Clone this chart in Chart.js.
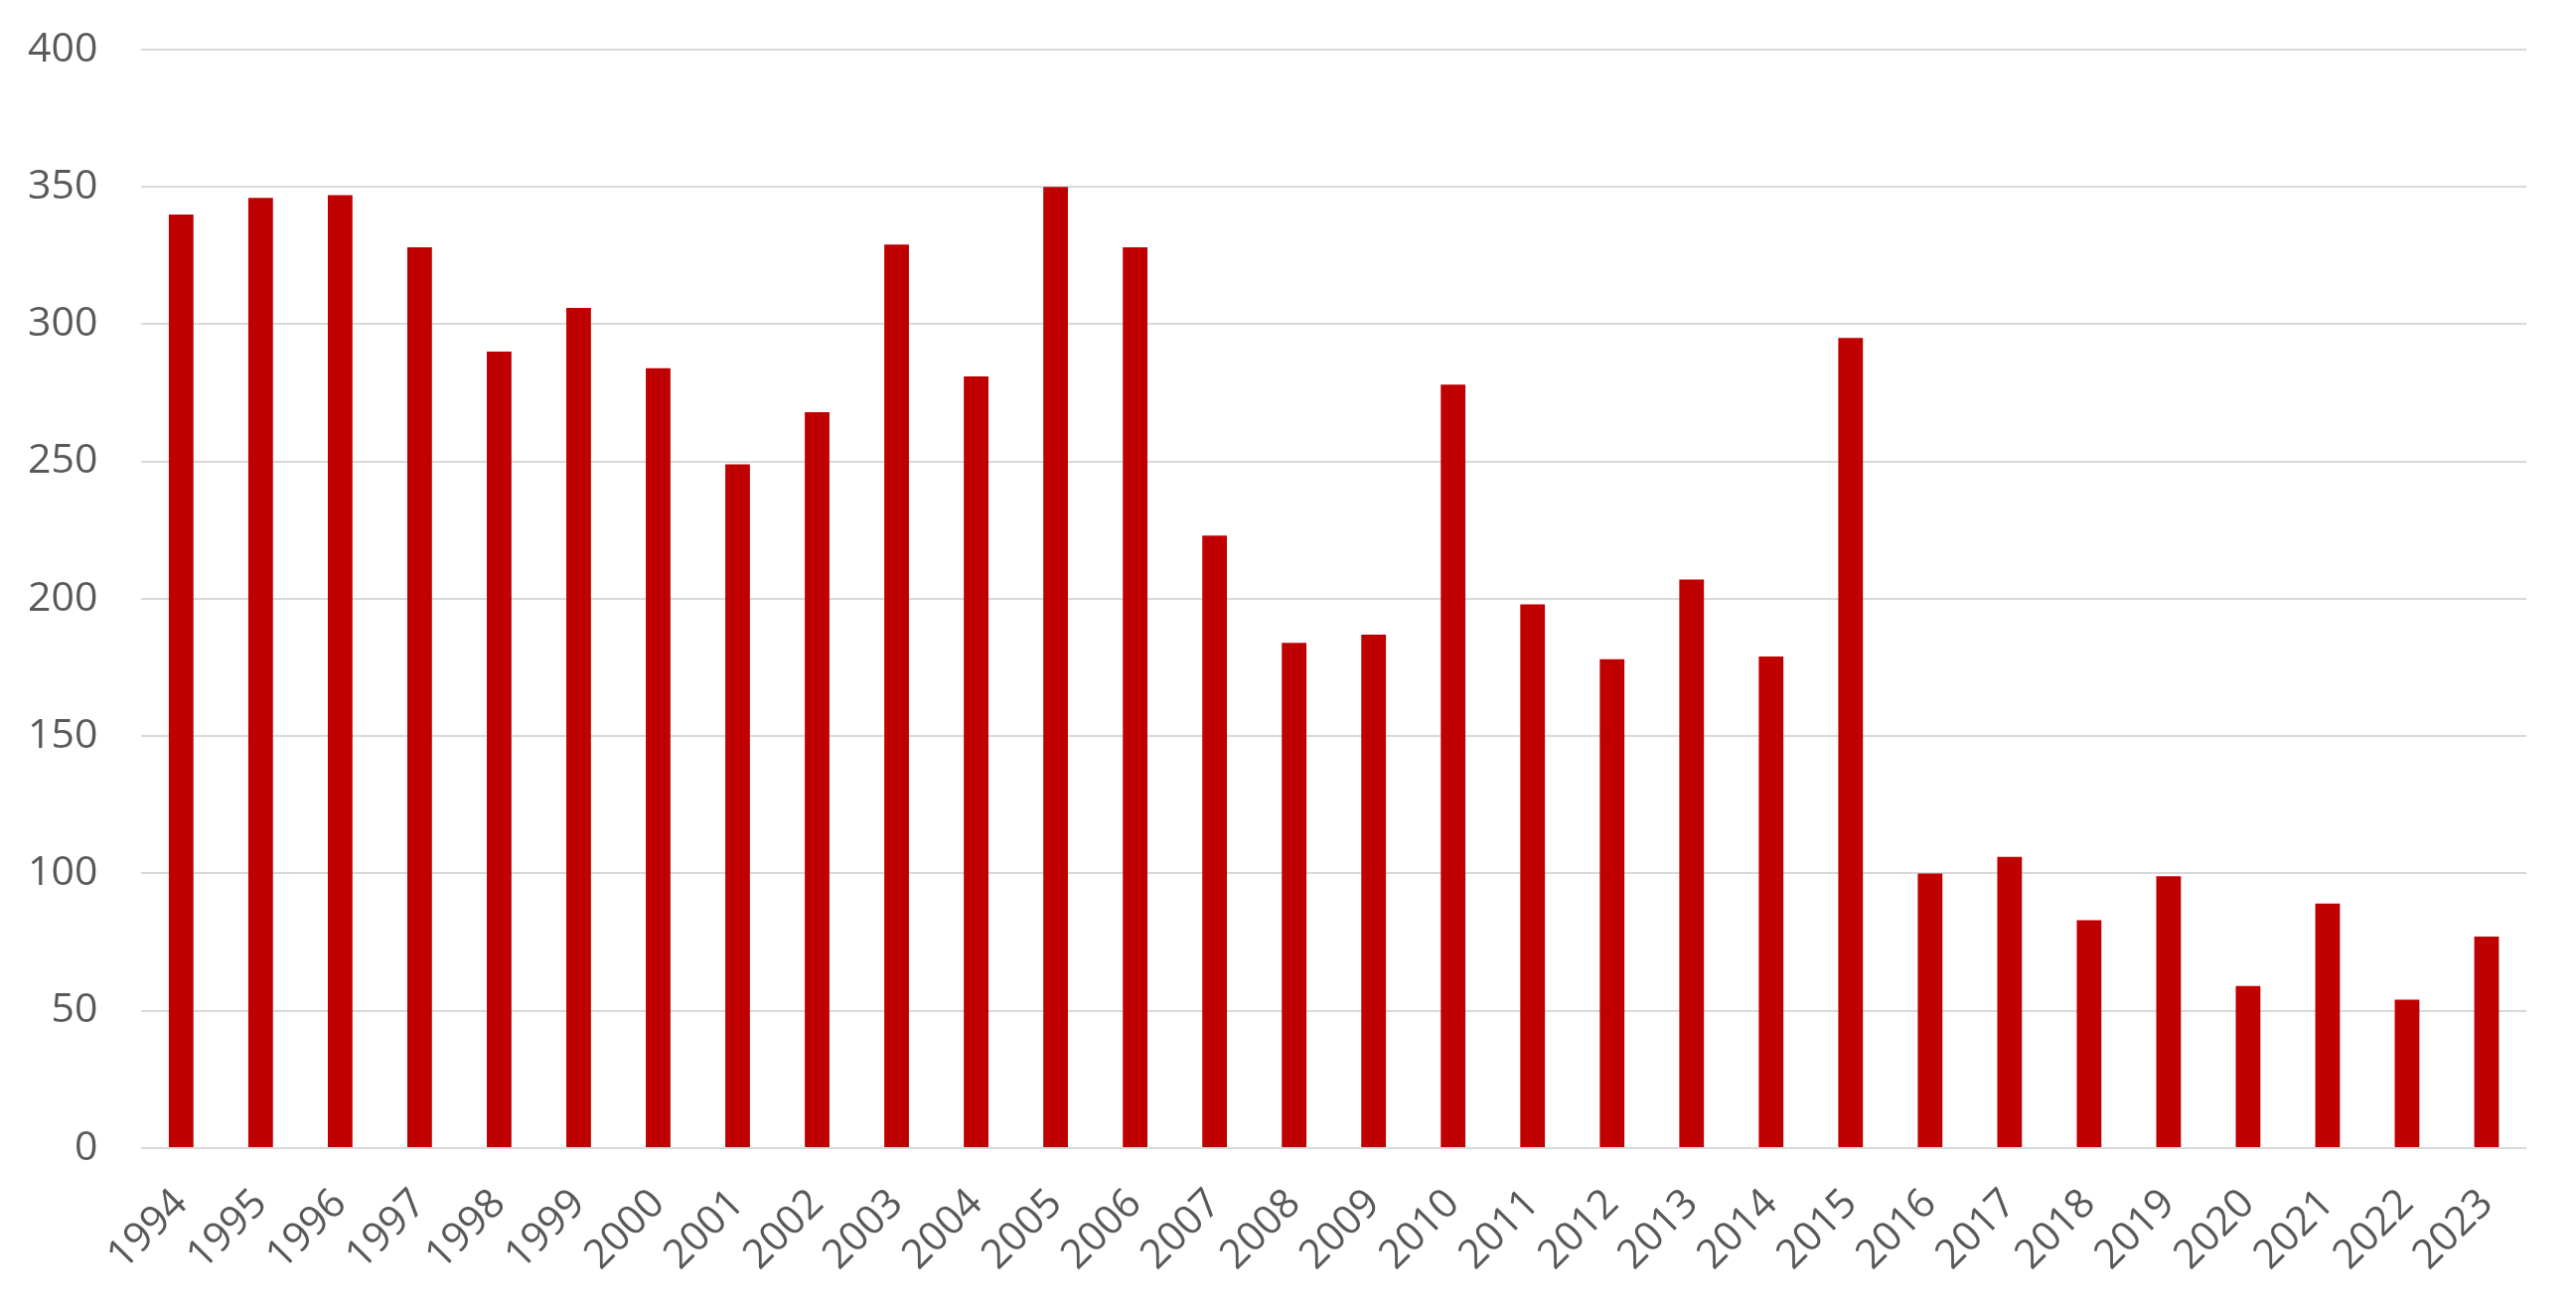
<!DOCTYPE html>
<html>
<head>
<meta charset="utf-8">
<script src="https://cdn.jsdelivr.net/npm/chart.js@4/dist/chart.umd.min.js"></script>
<style>
  html, body { margin: 0; padding: 0; background: #fff; }
  #wrap { width: 2593px; height: 1322px; }
</style>
</head>
<body>
<div id="wrap"><canvas id="chart"></canvas></div>
<script>
var years = ["1994", "1995", "1996", "1997", "1998", "1999", "2000", "2001", "2002", "2003",
  "2004", "2005", "2006", "2007", "2008", "2009", "2010", "2011", "2012", "2013",
  "2014", "2015", "2016", "2017", "2018", "2019", "2020", "2021", "2022", "2023"];
var values = [340, 346, 347, 328, 290, 306, 284, 249, 268, 329,
  281, 350, 328, 223, 184, 187, 278, 198, 178, 207,
  179, 295, 100, 106, 83, 99, 59, 89, 54, 77];
var yTicks = [0, 50, 100, 150, 200, 250, 300, 350, 400];

var data = {
  labels: years,
  datasets: [{
    data: values,
    backgroundColor: "#c00000",
    borderWidth: 0,
    barPercentage: 0.62,
    categoryPercentage: 0.5
  }]
};

// the layout padding alone decides where the plot area sits
function noAxisPadding(axis) {
  axis.paddingLeft = 0;
  axis.paddingRight = 0;
  axis.paddingTop = 0;
  axis.paddingBottom = 0;
}

var options = {
  responsive: true,
  maintainAspectRatio: false,
  animation: false,
  layout: {
    padding: { top: 50, right: 50, bottom: 33, left: 28 }
  },
  plugins: {
    legend: { display: false },
    tooltip: { enabled: false }
  },
  scales: {
    y: {
      min: 0,
      max: 400,
      afterBuildTicks: function (axis) {
        axis.ticks = yTicks.map(function (v) { return { value: v }; });
      },
      afterFit: function (axis) {
        noAxisPadding(axis);
        // tick padding is counted on both sides of the labels, keep only one
        axis.width -= axis.options.ticks.padding;
      },
      border: { display: false },
      grid: {
        color: "#d9d9d9",
        lineWidth: 2,
        drawTicks: false
      },
      ticks: {
        padding: 44,
        color: "#595959",
        font: { family: "Open Sans", size: 41 }
      }
    },
    x: {
      afterFit: function (axis) {
        noAxisPadding(axis);
        axis.height -= axis.options.ticks.padding;
      },
      border: { display: false },
      grid: { display: false, drawTicks: false },
      ticks: {
        minRotation: 45,
        maxRotation: 45,
        autoSkip: false,
        padding: 32,
        color: "#595959",
        font: { family: "Open Sans", size: 41 }
      }
    }
  }
};

new Chart('chart', {
  type: 'bar',
  options: options,
  data: data
});
</script>
</body>
</html>
